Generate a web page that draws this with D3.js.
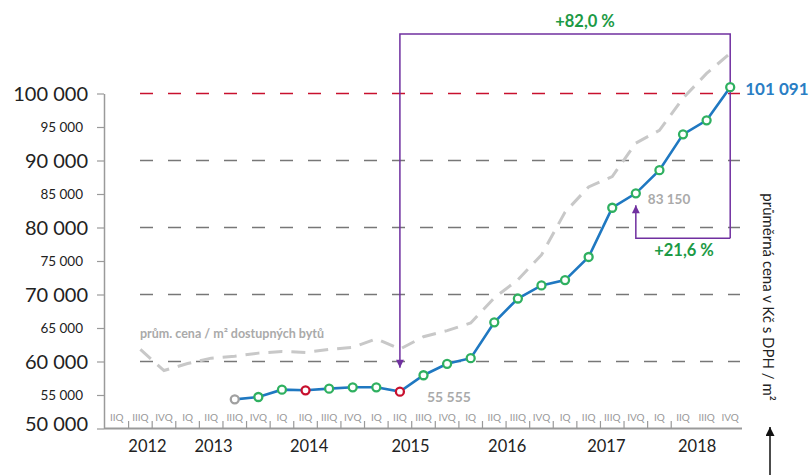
<!DOCTYPE html>
<html>
<head>
<meta charset="utf-8">
<script src="https://cdn.jsdelivr.net/npm/d3@7"></script>
<style>
  body { margin: 0; background: #fff; }
  svg { font-family: Lato, "Open Sans", sans-serif; }
</style>
</head>
<body>
<svg id="chart" width="809" height="475"></svg>
<script>
// quarters on the x axis: 2012 IIQ .. 2018 IVQ
const years = ["2012", "2013", "2014", "2015", "2016", "2017", "2018"];
const quarterNames = ["IQ", "IIQ", "IIIQ", "IVQ"];
// where the year labels sit, in quarter units from the left end of the axis
const yearLabelPos = [1.8, 4.6, 8.65, 12.95, 17.05, 21.25, 25.1];

// průměrná cena (blue line), from 2013 IIIQ
const priceStart = "2013 IIIQ";
const priceValues = [54350, 54700, 55800, 55700, 55950, 56150, 56150, 55500, 57950, 59650, 60500,
  65850, 69400, 71350, 72150, 75600, 82950, 85100, 88550, 93900, 96000, 100950];
const markerKind = ["grey", "green", "green", "red", "green", "green", "green", "red",
  "green", "green", "green", "green", "green", "green", "green", "green", "green", "green",
  "green", "green", "green", "green"];

// prům. cena / m2 dostupných bytů (grey dashed line), from 2012 IIIQ
const affordStart = "2012 IIIQ";
const affordValues = [61800, 58650, 59700, 60500, 60800, 61250, 61500, 61350, 61800, 62100, 63400,
  61850, 63700, 64600, 65750, 69500, 72200, 75900, 82300, 86050, 87600, 92600, 94500, 99300,
  103000, 106000];

const yTicks = [50000, 55000, 60000, 65000, 70000, 75000, 80000, 85000, 90000, 95000, 100000];
const gridValues = [60000, 70000, 80000, 90000];
const redGrid = 100000;

// labelled values
const valueLabels = [
  { q: "2015 IIQ", text: "55 555" },
  { q: "2017 IVQ", text: "83 150" },
  { q: "2018 IVQ", text: "101 091" }
];
const bigChange = { from: "2015 IIQ", to: "2018 IVQ", text: "+82,0 %" };
const smallChange = { from: "2017 IVQ", to: "2018 IVQ", text: "+21,6 %", bottom: 78400 };

const quarters = [];
years.forEach(function (yr) {
  quarterNames.forEach(function (q) {
    if (yr == "2012" && q == "IQ") return;
    quarters.push(yr + " " + q);
  });
});

const markerColor = { grey: "#a0a0a0", green: "#2fb060", red: "#c8102e" };
const purple = "#7030a0";
const green = "#1c9a45";

var svg = d3.select("#chart");
var x = d3.scaleBand().domain(quarters).range([105, 742]).padding(0);
var xq = d3.scaleLinear().domain([0, quarters.length]).range([105, 742]);
var y = d3.scaleLinear().domain([50000, 100000]).range([428.5, 93.5]);
function cx(q) { return x(q) + x.bandwidth() / 2; }

var fmt = function (v) { return d3.format(",")(v).replace(/,/g, " "); };

// gridlines
svg.append("g").selectAll("line").data(gridValues).enter().append("line")
  .attr("x1", 140).attr("x2", 740)
  .attr("y1", d => y(d)).attr("y2", d => y(d))
  .attr("stroke", "#777").attr("stroke-width", 1.5).attr("stroke-dasharray", "13,15");
svg.append("line")
  .attr("x1", 140).attr("x2", 740).attr("y1", y(redGrid)).attr("y2", y(redGrid))
  .attr("stroke", "#c8102e").attr("stroke-width", 1.5).attr("stroke-dasharray", "13,15");

// y axis
var yAxis = svg.append("g").attr("transform", "translate(104,0)")
  .call(d3.axisLeft(y).tickValues(yTicks).tickSize(7).tickSizeOuter(0).tickFormat(fmt));
yAxis.select(".domain").attr("stroke", "#9a9a9a").attr("stroke-width", 1.5);
yAxis.selectAll(".tick line").attr("stroke", "#9a9a9a").attr("stroke-width", 1.2);
yAxis.selectAll(".tick text")
  .attr("fill", "#222")
  .attr("font-family", "Lato, sans-serif")
  .attr("font-size", d => d % 10000 == 0 ? 20 : 13.5)
  .attr("x", d => d % 10000 == 0 ? -16 : -21)
  .attr("dy", d => d == 50000 ? "0.1em" : "0.34em");

// x axis
var xAxis = svg.append("g");
xAxis.append("line").attr("x1", 104).attr("x2", 742).attr("y1", 428.5).attr("y2", 428.5)
  .attr("stroke", "#9a9a9a").attr("stroke-width", 2);
xAxis.selectAll(".qtick").data(quarters.slice(1, 25)).enter().append("line")
  .attr("class", "qtick")
  .attr("x1", d => x(d)).attr("x2", d => x(d)).attr("y1", 421).attr("y2", 428.5)
  .attr("stroke", "#9a9a9a").attr("stroke-width", 1.2);
xAxis.selectAll(".qlabel").data(quarters).enter().append("text")
  .attr("class", "qlabel")
  .attr("x", d => cx(d)).attr("y", 420.5)
  .attr("text-anchor", "middle").attr("font-size", 10).attr("fill", "#999")
  .text(d => d.split(" ")[1]);
xAxis.selectAll(".ylabel").data(years).enter().append("text")
  .attr("class", "ylabel")
  .attr("x", (d, i) => xq(yearLabelPos[i])).attr("y", 452)
  .attr("text-anchor", "middle").attr("font-size", 16.5).attr("fill", "#222")
  .text(d => d);

// affordable flats line
var i0 = quarters.indexOf(affordStart);
var affordData = affordValues.map((v, i) => ({ q: quarters[i0 + i], v: v }));
svg.append("path").datum(affordData)
  .attr("d", d3.line().x(d => cx(d.q)).y(d => y(d.v)))
  .attr("fill", "none").attr("stroke", "#c8c8c8").attr("stroke-width", 3)
  .attr("stroke-dasharray", "14,9");
svg.append("text").attr("x", 140).attr("y", 338)
  .attr("font-size", 12.5).attr("font-weight", "bold").attr("fill", "#aaa")
  .text("prům. cena / m² dostupných bytů");

// purple annotations
var defs = svg.append("defs");
defs.append("marker").attr("id", "arrP").attr("viewBox", "0 0 10 10")
  .attr("refX", 10).attr("refY", 5).attr("markerWidth", 11).attr("markerHeight", 8)
  .attr("markerUnits", "userSpaceOnUse").attr("orient", "auto")
  .append("path").attr("d", "M0,0L10,5L0,10Z").attr("fill", purple);
defs.append("marker").attr("id", "arrB").attr("viewBox", "0 0 10 10")
  .attr("refX", 10).attr("refY", 5).attr("markerWidth", 12).attr("markerHeight", 9)
  .attr("markerUnits", "userSpaceOnUse").attr("orient", "auto")
  .append("path").attr("d", "M0,0L10,5L0,10Z").attr("fill", "#111");

var p0 = priceValues[quarters.indexOf(bigChange.from) - quarters.indexOf(priceStart)];
svg.append("path")
  .attr("d", "M" + cx(bigChange.to) + "," + y(smallChange.bottom) + "V34H" + cx(bigChange.from) + "V" + (y(p0) - 24))
  .attr("fill", "none").attr("stroke", purple).attr("stroke-width", 1.5)
  .attr("marker-end", "url(#arrP)");
svg.append("text").attr("x", (cx(bigChange.from) + cx(bigChange.to)) / 2 + 20).attr("y", 27)
  .attr("text-anchor", "middle").attr("font-size", 16.5).attr("font-weight", "bold").attr("fill", green)
  .text(bigChange.text);

var p1 = priceValues[quarters.indexOf(smallChange.from) - quarters.indexOf(priceStart)];
svg.append("path")
  .attr("d", "M" + cx(smallChange.to) + "," + y(smallChange.bottom) + "H" + cx(smallChange.from) + "V" + (y(p1) + 12))
  .attr("fill", "none").attr("stroke", purple).attr("stroke-width", 1.5)
  .attr("marker-end", "url(#arrP)");
svg.append("text").attr("x", (cx(smallChange.from) + cx(smallChange.to)) / 2 + 1).attr("y", 256)
  .attr("text-anchor", "middle").attr("font-size", 16.5).attr("font-weight", "bold").attr("fill", green)
  .text(smallChange.text);

// price line + markers
var j0 = quarters.indexOf(priceStart);
var priceData = priceValues.map((v, i) => ({ q: quarters[j0 + i], v: v, k: markerKind[i] }));
svg.append("path").datum(priceData)
  .attr("d", d3.line().x(d => cx(d.q)).y(d => y(d.v)))
  .attr("fill", "none").attr("stroke", "#1f78c1").attr("stroke-width", 2.6);
svg.selectAll(".pt").data(priceData).enter().append("circle")
  .attr("class", "pt")
  .attr("cx", d => cx(d.q)).attr("cy", d => y(d.v)).attr("r", 4)
  .attr("fill", "#fff").attr("stroke", d => markerColor[d.k]).attr("stroke-width", 2.3);

// value labels
var lbl = svg.selectAll(".vlabel").data(valueLabels).enter().append("text")
  .attr("class", "vlabel")
  .attr("font-weight", "bold")
  .text(d => d.text);
lbl.each(function (d, i) {
  var v = priceData.find(p => p.q == d.q).v;
  var t = d3.select(this);
  if (i == 0) t.attr("x", cx(d.q) + 27).attr("y", y(v) + 10).attr("font-size", 14).attr("fill", "#aaa");
  if (i == 1) t.attr("x", cx(d.q) + 12).attr("y", y(v) + 11).attr("font-size", 13.5).attr("fill", "#aaa");
  if (i == 2) t.attr("x", cx(d.q) + 15).attr("y", y(v) + 8).attr("font-size", 17).attr("fill", "#2a7ec4");
});

// right axis title + arrow
svg.append("text").attr("transform", "translate(763,297) rotate(90)")
  .attr("text-anchor", "middle").attr("font-size", 15).attr("fill", "#222")
  .text("průměrná cena v Kč s DPH / m²");
svg.append("line").attr("x1", 770).attr("x2", 770).attr("y1", 475).attr("y2", 427)
  .attr("stroke", "#111").attr("stroke-width", 1.5).attr("marker-end", "url(#arrB)");
</script>
</body>
</html>
